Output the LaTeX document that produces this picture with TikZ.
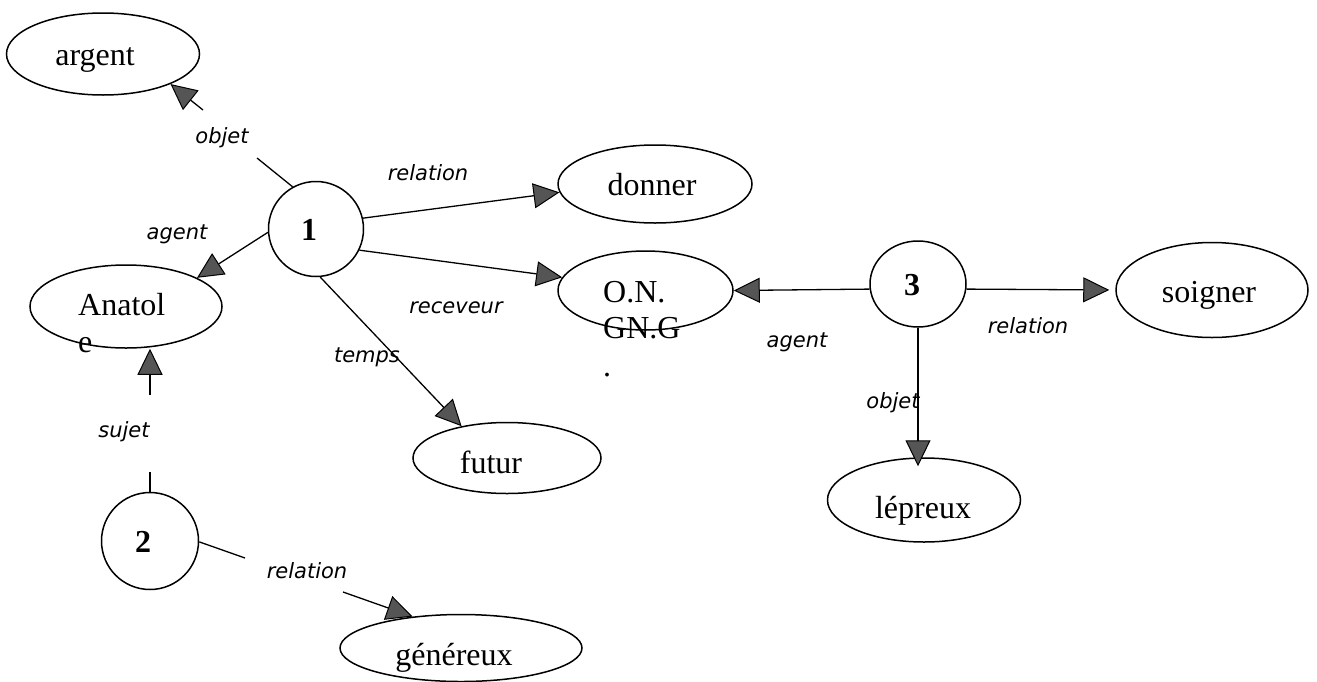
\documentclass[tikz,border=0pt]{standalone}
\usepackage{fontspec}
\setmainfont{Liberation Serif}
\newfontfamily\labelfont{DejaVu Sans}
\usetikzlibrary{arrows.meta,shapes.geometric}
\definecolor{tipgray}{HTML}{555555}
\tikzset{
  concept/.style={ellipse, draw, line width=1.5pt, inner sep=0pt},
  relnode/.style={ellipse, draw, line width=1.5pt, inner sep=0pt},
  digit/.style={font=\fontsize{32}{36}\selectfont\bfseries, inner sep=0pt},
  word/.style={font=\fontsize{32}{37}\selectfont, inner sep=0pt},
  role/.style={font=\labelfont\itshape\fontsize{21}{25}\selectfont, inner sep=0pt, anchor=base},
  link/.style={line width=1.3pt},
  arc/.style={link, -{Triangle[length=26pt,width=25pt,fill=tipgray,line width=1pt]}},
}
\begin{document}
\begin{tikzpicture}[x=1pt,y=-1pt]
\useasboundingbox (0,0) rectangle (1317,681);

% concept ellipses
\node[concept, minimum width=193pt, minimum height=82pt] (argent) at (103,54) {};
\node[concept, minimum width=194pt, minimum height=78pt] (donner) at (655,184) {};
\node[concept, minimum width=192pt, minimum height=83pt] (anatole) at (126,306.5) {};
\node[concept, minimum width=175pt, minimum height=79pt] (ong) at (645.5,290.5) {};
\node[concept, minimum width=188pt, minimum height=71pt] (futur) at (507,458) {};
\node[concept, minimum width=192pt, minimum height=95pt] (soigner) at (1212,290) {};
\node[concept, minimum width=193pt, minimum height=84pt] (lepreux) at (924,500) {};
\node[concept, minimum width=242pt, minimum height=67pt] (genereux) at (461,648) {};

% concept words
\node[word, anchor=base] (argent-w) at (95,65) {argent};
\node[word, anchor=base] (donner-w) at (652,195) {donner};
\node[word, anchor=base west] (anatole-w1) at (78,315) {Anatol};
\node[word, anchor=base west] (anatole-w2) at (78,352) {e};
\node[word, anchor=base west] (ong-w1) at (603,302) {O.N.};
\node[word, anchor=base west] (ong-w2) at (603,338) {GN.G};
\node[word, anchor=base west] (ong-w3) at (603,376) {.};
\node[word, anchor=base] (futur-w) at (491,473) {futur};
\node[word, anchor=base] (soigner-w) at (1209,302) {soigner};
\node[word, anchor=base] (lepreux-w) at (923,518) {lépreux};
\node[word, anchor=base] (genereux-w) at (454,665) {généreux};

% relation nodes
\node[relnode, minimum width=95pt, minimum height=95pt] (c1) at (316,229) {};
\node[relnode, minimum width=97pt, minimum height=97pt] (c2) at (150,541) {};
\node[relnode, minimum width=96pt, minimum height=86pt] (c3) at (918,284) {};
\node[digit, anchor=base] (c1-d) at (309,240) {1};
\node[digit, anchor=base] (c2-d) at (143,552) {2};
\node[digit, anchor=base] (c3-d) at (912,295) {3};

% gaps left for role labels
\coordinate (g1a) at (257,158);
\coordinate (g1b) at (203,110);
\coordinate (g6a) at (150,472);
\coordinate (g6b) at (150,395);
\coordinate (g7a) at (245,558);
\coordinate (g7b) at (343,592);

% connectors of relation 1
\draw[link] (c1.119) -- (g1a);
\draw[arc] (g1b) -- (argent.-24);
\draw[arc] (c1.13) -- (donner.185);
\draw[arc] (c1.184) -- (anatole.22);
\draw[arc] (c1.-26) -- (ong.171);
\draw[arc] (c1.-85) -- (futur.145);

% connectors of relation 2
\draw[link] (c2.north) -- (g6a);
\draw[arc] (g6b) -- (g6b |- anatole.south);
\draw[link] (c2.-1) -- (g7a);
\draw[arc] (g7b) -- (genereux.147);

% connectors of relation 3
\draw[arc] (c3.186) -- (ong.east);
\draw[arc, shorten >=6pt] (c3.-6) -- (soigner.west);
\draw[arc, shorten >=-9pt] (c3.south) -- (c3.south |- lepreux.north);

% role labels
\node[role] (l-objet1) at (222,143) {objet};
\node[role] (l-rel1) at (428,180) {relation};
\node[role] (l-agent1) at (177,239) {agent};
\node[role] (l-recv) at (456,313) {receveur};
\node[role] (l-temps) at (367,362) {temps};
\node[role] (l-sujet) at (124,437) {sujet};
\node[role] (l-rel2) at (307,578) {relation};
\node[role] (l-agent3) at (797,347) {agent};
\node[role] (l-rel3) at (1028,333) {relation};
\node[role] (l-objet3) at (893,408) {objet};
\end{tikzpicture}
\end{document}
